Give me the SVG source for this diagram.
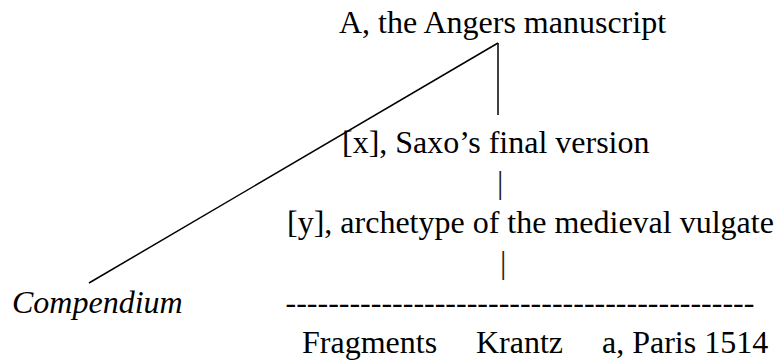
<svg xmlns="http://www.w3.org/2000/svg" width="775" height="360" viewBox="0 0 775 360">
<style>
text{font-family:"Liberation Serif","Times New Roman",serif;font-size:32px;fill:#000}
.it{font-style:italic}
.ln{stroke:#000;stroke-width:1.5;fill:none}
.bar{fill:#222}
</style>
<rect width="775" height="360" fill="#fff"/>
<g id="connectors">
<line class="ln" x1="89" y1="283" x2="498" y2="43"/>
<line class="ln" x1="498" y1="43" x2="498" y2="115"/>
<text class="bar" x="497" y="193">|</text>
<text class="bar" x="500" y="273">|</text>
<text x="285.5" y="313">--------------------------------------------</text>
</g>
<g id="node-A"><text x="339" y="33">A, the Angers manuscript</text></g>
<g id="node-x"><text x="342" y="153">[x], Saxo’s final version</text></g>
<g id="node-y"><text x="287" y="233">[y], archetype of the medieval vulgate</text></g>
<g id="node-compendium"><text class="it" x="12" y="313">Compendium</text></g>
<g id="node-fragments"><text x="302" y="353">Fragments</text></g>
<g id="node-krantz"><text x="476" y="353">Krantz</text></g>
<g id="node-paris"><text x="602" y="353">a, Paris 1514</text></g>
</svg>
